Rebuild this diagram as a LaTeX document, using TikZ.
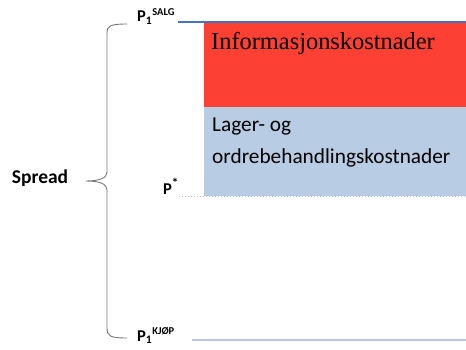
\documentclass[tikz,border=0pt]{standalone}
\usepackage{fontspec}
\setmainfont{Carlito}
\newfontfamily\serifcam{Liberation Serif}
\definecolor{infored}{RGB}{252,64,52}
\definecolor{lagerblue}{RGB}{184,204,228}
\definecolor{topline}{RGB}{68,114,196}
\definecolor{botline}{RGB}{180,199,231}
\definecolor{bracegray}{RGB}{120,120,120}
\tikzset{
  plabel/.style={inner sep=0pt, font=\bfseries\fontsize{16.5}{18}\selectfont},
  costbox/.style={draw=none, minimum width=262pt, inner sep=0pt, anchor=north west},
}
\newcommand{\supsmall}[1]{\textsuperscript{\fontsize{10.5}{10.5}\selectfont #1}}
\begin{document}
\begin{tikzpicture}[x=1pt,y=1pt]
\useasboundingbox (0,0) rectangle (466,349);
% boxes
\node[costbox, fill=infored, minimum height=84pt] (info) at (204,326) {};
\node[costbox, fill=lagerblue, minimum height=89pt] (lager) at (204,242) {};
\node[anchor=base west, inner sep=0pt, font=\serifcam\fontsize{24.4}{28}\selectfont] (infotxt) at (211,299) {Informasjonskostnader};
\node[anchor=base west, inner sep=0pt, font=\fontsize{21.3}{26}\selectfont] (lagertxt1) at (212,218) {Lager- og};
\node[anchor=base west, inner sep=0pt, font=\fontsize{21.3}{26}\selectfont] (lagertxt2) at (212,186) {ordrebehandlingskostnader};
% labels
\node[plabel, anchor=base west] (psalg) at (137,327) {P\textsubscript{1}\supsmall{SALG}};
\node[plabel, anchor=base west] (pstar) at (163,155) {P\textsuperscript{\fontsize{13}{13}\selectfont *}};
\node[plabel, anchor=base west] (pkjop) at (137,8) {P\textsubscript{1}\supsmall{KJØP}};
\node[anchor=base, inner sep=0pt, font=\bfseries\fontsize{19.5}{22}\selectfont] (spread) at (40,166) {Spread};
% lines
\coordinate (topend) at (466,327);
\coordinate (botend) at (466,9);
\coordinate (starend) at (466,153);
\draw[topline, line width=1.8pt] (psalg.east |- 0,327) ++(3,0) -- (topend);
\draw[botline, line width=1.8pt] (pkjop.east |- 0,9) ++(17,0) -- (botend);
\draw[botline, line width=1pt, dotted] (pstar.east |- 0,153) -- (starend);
% brace
\draw[bracegray, line width=0.9pt]
  (127,325) .. controls (110,325) and (107,323) .. (107,316) -- (107,177)
  .. controls (107,171) and (100,168) .. (86,168)
  .. controls (100,168) and (107,165) .. (107,159) -- (107,21)
  .. controls (107,13) and (110,11) .. (127,11);
\end{tikzpicture}
\end{document}
